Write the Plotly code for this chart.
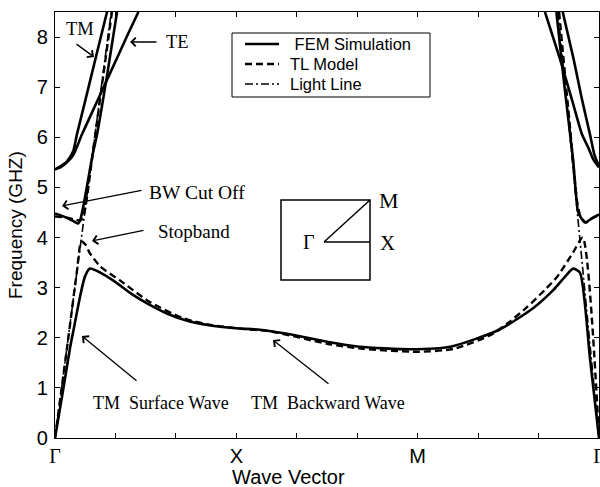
import plotly.graph_objects as go

# ---------------- data (x: 0=Γ, 1=X, 2=M, 3=Γ) ----------------
fem_low_x = [0, 0.04, 0.083, 0.11, 0.138, 0.165, 0.193, 0.25, 0.33, 0.42, 0.52, 0.62, 0.72, 0.85, 1.0, 1.13, 1.31,
             1.5, 1.68, 1.96, 2.18, 2.45, 2.64, 2.75, 2.82, 2.857, 2.895, 2.95, 3.0]
fem_low_f = [0, 0.85, 1.8, 2.3, 2.82, 3.22, 3.38, 3.30, 3.12, 2.88, 2.66, 2.48, 2.35, 2.25, 2.19, 2.16, 2.06,
             1.92, 1.82, 1.77, 1.82, 2.16, 2.6, 2.96, 3.25, 3.38, 3.3, 1.6, 0]

fem_tm_left_x = [0, 0.03, 0.066, 0.1, 0.121, 0.16, 0.21, 0.25, 0.287]
fem_tm_left_f = [5.36, 5.42, 5.52, 5.72, 6.06, 6.63, 7.37, 7.96, 8.5]
fem_te_left_x = [0, 0.03, 0.066, 0.1, 0.149, 0.23, 0.30, 0.40, 0.46]
fem_te_left_f = [5.36, 5.4, 5.5, 5.64, 6.06, 6.7, 7.25, 8.04, 8.5]
fem_bw_left_x = [0, 0.04, 0.08, 0.11, 0.127, 0.14, 0.155, 0.18, 0.21, 0.232, 0.29, 0.342]
fem_bw_left_f = [4.48, 4.43, 4.37, 4.31, 4.28, 4.36, 4.6, 5.1, 5.7, 6.06, 7.3, 8.5]

fem_u1_right_x = [2.702, 2.785, 2.85, 2.906, 2.94, 2.97, 3.0]
fem_u1_right_f = [8.5, 7.56, 6.76, 6.06, 5.8, 5.55, 5.4]
fem_u2_right_x = [2.8, 2.86, 2.906, 2.95, 2.975, 3.0]
fem_u2_right_f = [8.5, 7.56, 6.76, 6.06, 5.65, 5.42]
fem_bw_right_x = [2.765, 2.81, 2.857, 2.884, 2.9, 2.923, 2.96, 3.0]
fem_bw_right_f = [8.5, 7.0, 5.56, 4.52, 4.4, 4.3, 4.38, 4.46]

tl_low_x = [0, 0.07, 0.12, 0.145, 0.17, 0.19, 0.25, 0.36, 0.52, 0.7, 0.85, 1.0, 1.2, 1.5, 1.7, 2.0,
            2.2, 2.4, 2.5, 2.6, 2.7, 2.77, 2.857, 2.91, 3.0]
tl_low_f = [0, 1.9, 3.3, 3.92, 3.85, 3.7, 3.42, 3.14, 2.72, 2.4, 2.26, 2.19, 2.12, 1.88, 1.78, 1.72,
            1.78, 2.05, 2.3, 2.6, 2.95, 3.22, 3.7, 4.0, 0]
tl_up_left_x = [0, 0.06, 0.11, 0.14, 0.155, 0.17, 0.2, 0.25, 0.314]
tl_up_left_f = [4.42, 4.40, 4.36, 4.34, 4.4, 4.65, 5.45, 6.8, 8.5]
tl_up_right_x = [2.78, 2.84, 2.88, 2.9, 2.93, 2.96, 3.0]
tl_up_right_f = [8.5, 6.2, 4.7, 4.4, 4.3, 4.38, 4.45]

light_left_x = [0, 0.31]
light_left_f = [0, 8.5]
light_right_x = [2.774, 3.0]
light_right_f = [8.5, 0]

tick_vals = [0, 1/3, 2/3, 1, 4/3, 5/3, 2, 7/3, 8/3, 3]
tick_text = ['<span style="font-family:Liberation Serif">Γ</span>', '', '', 'X', '', '', 'M', '', '',
             '<span style="font-family:Liberation Serif">Γ</span>']
y_ticks = [0, 1, 2, 3, 4, 5, 6, 7, 8]
legend_names = [" FEM Simulation", "TL Model", "Light Line"]

# ---------------- figure ----------------
fig = go.Figure()
W_FEM, W_TL, W_LL = 2.6, 2.4, 1.6
DASH_TL, DASH_LL = "7px,4px", "8px,3px,2px,3px"

def add(x, y, dash, width):
    fig.add_trace(go.Scatter(x=x, y=y, mode="lines", showlegend=False, hoverinfo="skip",
                             line=dict(color="black", width=width, dash=dash, shape="spline", smoothing=0.6)))

add(light_left_x, light_left_f, DASH_LL, W_LL)
add(light_right_x, light_right_f, DASH_LL, W_LL)
add(tl_low_x, tl_low_f, DASH_TL, W_TL)
add(tl_up_left_x, tl_up_left_f, DASH_TL, W_TL)
add(tl_up_right_x, tl_up_right_f, DASH_TL, W_TL)
for xs, ys in [(fem_low_x, fem_low_f), (fem_tm_left_x, fem_tm_left_f), (fem_te_left_x, fem_te_left_f),
               (fem_bw_left_x, fem_bw_left_f), (fem_u1_right_x, fem_u1_right_f),
               (fem_u2_right_x, fem_u2_right_f), (fem_bw_right_x, fem_bw_right_f)]:
    add(xs, ys, "solid", W_FEM)

# pixel -> data helpers for layout items
L, R, T, B = 55, 599, 12, 438
def dx(px):
    return (px - L) / (R - L) * 3.0
def dy(py):
    return (B - py) / (B - T) * 8.5

serif = "Liberation Serif"
ann = []
def label(px, py, text, size=16, xanchor="center", family=serif):
    ann.append(dict(x=dx(px), y=dy(py), xref="x", yref="y", text=text, showarrow=False,
                    font=dict(family=family, size=size, color="black"), xanchor=xanchor, yanchor="middle"))
def arrow(tx, ty, hx, hy):
    ann.append(dict(x=dx(hx), y=dy(hy), ax=dx(tx), ay=dy(ty), xref="x", yref="y", axref="x", ayref="y",
                    text="", showarrow=True, arrowhead=4, arrowsize=1.3, arrowwidth=1.3, arrowcolor="black"))

label(80, 29, "TM", 18.5)
arrow(75, 43, 94, 57)
label(177, 42, "TE", 18.5)
arrow(158, 42, 130, 42)
label(147, 192, "BW Cut Off", 19.5, "left")
arrow(143, 190, 62, 206)
label(156, 231, "Stopband", 19, "left")
arrow(145, 230, 92, 241)
label(91, 403, "TM&nbsp; Surface Wave", 18, "left")
arrow(138, 382, 82, 336)
label(249, 403, "TM&nbsp; Backward Wave", 18, "left")
arrow(330, 385, 273, 340)
# inset Brillouin zone
label(317, 242, "Γ", 20, "right")
label(378, 243, "X", 21, "left")
label(377, 200, "M", 22, "left")

shapes = [
    dict(type="rect", xref="x", yref="y", x0=dx(281), y0=dy(280), x1=dx(370), y1=dy(200),
         line=dict(color="black", width=1.5)),
    dict(type="line", xref="x", yref="y", x0=dx(324), y0=dy(242), x1=dx(370), y1=dy(200),
         line=dict(color="black", width=1.5)),
    dict(type="line", xref="x", yref="y", x0=dx(324), y0=dy(242), x1=dx(370), y1=dy(242),
         line=dict(color="black", width=1.5)),
    # legend box
    dict(type="rect", xref="x", yref="y", x0=dx(232), y0=dy(97), x1=dx(430), y1=dy(33),
         line=dict(color="black", width=1), fillcolor="white", layer="above"),
]
leg_styles = [("solid", W_FEM), (DASH_TL, W_TL), (DASH_LL, W_LL)]
for i, (name, (dash, wd)) in enumerate(zip(legend_names, leg_styles)):
    yy = 44 + 20 * i
    shapes.append(dict(type="line", xref="x", yref="y", x0=dx(245), x1=dx(279), y0=dy(yy), y1=dy(yy),
                       line=dict(color="black", width=wd, dash=dash), layer="above"))
    ann.append(dict(x=dx(288), y=dy(yy), xref="x", yref="y", text=name, showarrow=False, xanchor="left",
                    yanchor="middle", font=dict(family="Liberation Sans", size=16.5, color="black")))

# axis titles (paper coords are relative to the plot area)
ann.append(dict(x=(288 - L) / (R - L), y=(B - 477) / (B - T), xref="paper", yref="paper", text="Wave Vector",
                showarrow=False, xanchor="center", yanchor="middle",
                font=dict(family="Liberation Sans", size=20, color="black")))
ann.append(dict(x=(15 - L) / (R - L), y=(B - 225) / (B - T), xref="paper", yref="paper", text="Frequency (GHZ)",
                showarrow=False, textangle=-90, xanchor="center", yanchor="middle",
                font=dict(family="Liberation Sans", size=19, color="black")))

axis_common = dict(showline=True, linecolor="black", linewidth=1.2, mirror="ticks", ticks="inside",
                   ticklen=5, tickcolor="black", showgrid=False, zeroline=False, automargin=False,
                   ticklabeloverflow="allow")
fig.update_layout(
    width=600, height=487,
    margin=dict(l=L, r=600 - R, t=T, b=487 - B),
    paper_bgcolor="white", plot_bgcolor="white",
    font=dict(family="Liberation Sans", color="black"),
    xaxis=dict(range=[0, 3], tickvals=tick_vals, ticktext=tick_text, tickfont=dict(size=20), **axis_common),
    yaxis=dict(range=[0, 8.5], tickvals=y_ticks, tickfont=dict(size=20), ticklabelstandoff=2, **axis_common),
    annotations=ann, shapes=shapes, showlegend=False,
)
fig.write_html("out.html", config={"displayModeBar": False},
               post_script="document.body.style.margin='0px';")
